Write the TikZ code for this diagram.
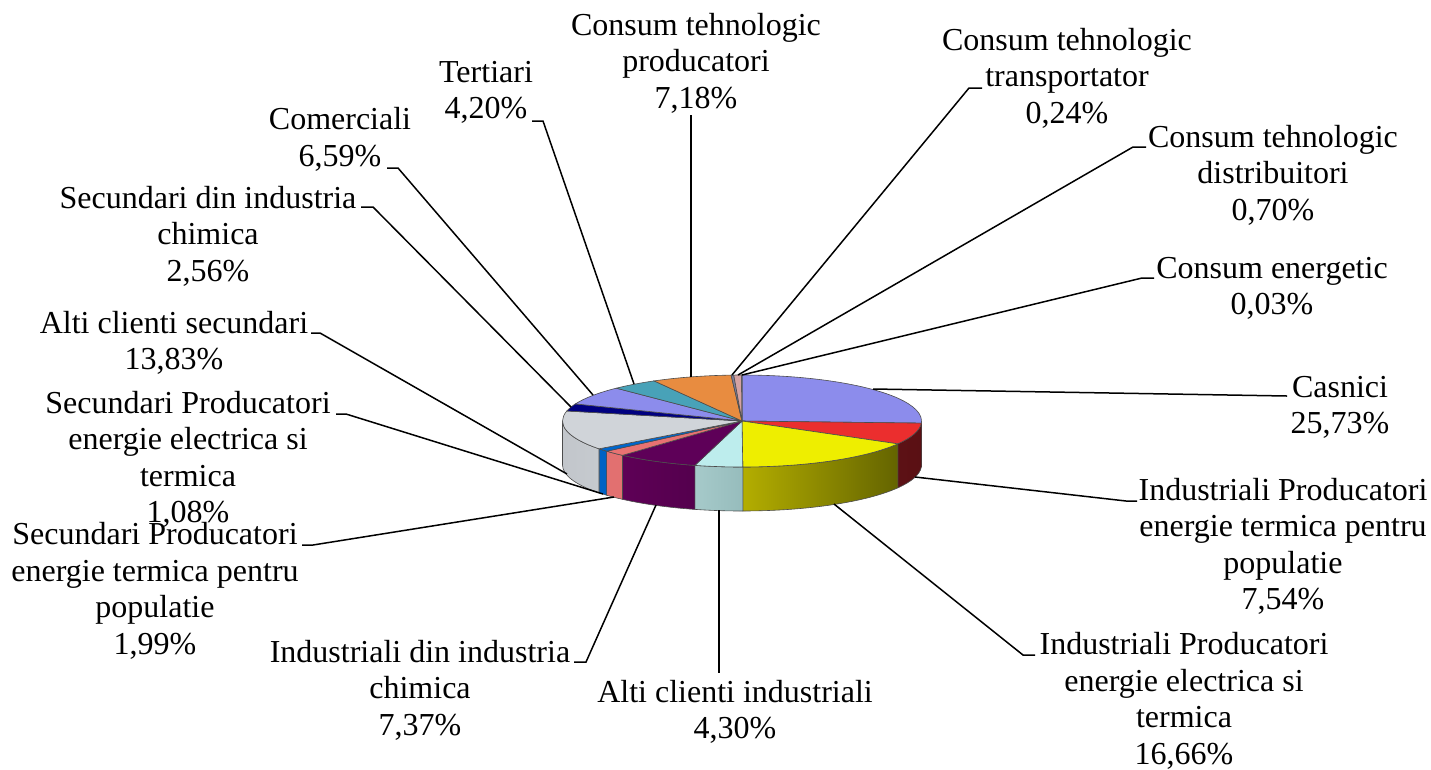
\documentclass[tikz,border=0pt]{standalone}
\usepackage{fontspec}
\setmainfont{Liberation Serif}
\definecolor{cCas}{HTML}{8C8CEC}
\definecolor{cIPT}{HTML}{EB2E2E}
\definecolor{cIPE}{HTML}{EEEE00}
\definecolor{cACI}{HTML}{BDEDED}
\definecolor{cIDIC}{HTML}{5E0058}
\definecolor{cSPT}{HTML}{E87272}
\definecolor{cSPE}{HTML}{0066CC}
\definecolor{cACS}{HTML}{D0D4D9}
\definecolor{cSDIC}{HTML}{000080}
\definecolor{cCom}{HTML}{8C8CEC}
\definecolor{cTer}{HTML}{48A2B8}
\definecolor{cCTP}{HTML}{E88C40}
\definecolor{cCTT}{HTML}{7C7C9C}
\definecolor{cCTD}{HTML}{D4A2A2}
\definecolor{cCE}{HTML}{9A9A9A}
\definecolor{wCasA}{HTML}{5A5AA0}
\definecolor{wIPTA}{HTML}{6E161A}
\definecolor{wIPTB}{HTML}{5A1014}
\definecolor{wIPEA}{HTML}{B4AE00}
\definecolor{wIPEB}{HTML}{646400}
\definecolor{wACIA}{HTML}{A6CACA}
\definecolor{wACIB}{HTML}{96BCBC}
\definecolor{wIDICA}{HTML}{5E0056}
\definecolor{wIDICB}{HTML}{4E0048}
\definecolor{wSPT}{HTML}{E27070}
\definecolor{wSPE}{HTML}{0062C4}
\definecolor{wACSA}{HTML}{C2C6CB}
\definecolor{wACSB}{HTML}{D6DADE}
\newcommand\mywall[4]{%
  \path[left color=#3, right color=#4, draw=black!70, line width=0.6pt]
    (C) ++(#1:179.5 and 46)
    arc[start angle=#1, end angle=#2, x radius=179.5, y radius=46]
    -- ++(0,44)
    arc[start angle=#2, end angle=#1, x radius=179.5, y radius=46] -- cycle;}
\newcommand\myslice[3]{%
  \filldraw[fill=#3, draw=black!70, line width=0.6pt]
    (C) -- ++(#1:179.5 and 46)
    arc[start angle=#1, end angle=#2, x radius=179.5, y radius=46] -- cycle;}
\begin{document}
\begin{tikzpicture}[x=1pt,y=-1pt,
  lbl/.style={font=\fontsize{32}{36.5}\selectfont, align=center, inner sep=0pt, anchor=base},
  leader/.style={draw=black, line width=1.5pt}]
\useasboundingbox (0,0) rectangle (1431,769);
\coordinate (C) at (742,421);
% walls (front half)
\mywall{0}{2.628}{wCasA}{wCasA}
\mywall{2.628}{29.772}{wIPTA}{wIPTB}
\mywall{29.772}{89.748}{wIPEA}{wIPEB}
\mywall{89.748}{105.228}{wACIA}{wACIB}
\mywall{105.228}{131.76}{wIDICA}{wIDICB}
\mywall{131.76}{138.924}{wSPT}{wSPT}
\mywall{138.924}{142.812}{wSPE}{wSPE}
\mywall{142.812}{180}{wACSA}{wACSB}
% top faces
\myslice{-90}{2.628}{cCas}
\myslice{2.628}{29.772}{cIPT}
\myslice{29.772}{89.748}{cIPE}
\myslice{89.748}{105.228}{cACI}
\myslice{105.228}{131.76}{cIDIC}
\myslice{131.76}{138.924}{cSPT}
\myslice{138.924}{142.812}{cSPE}
\myslice{142.812}{192.6}{cACS}
\myslice{192.6}{201.816}{cSDIC}
\myslice{201.816}{225.54}{cCom}
\myslice{225.54}{240.66}{cTer}
\myslice{240.66}{266.508}{cCTP}
\myslice{266.508}{267.372}{cCTT}
\myslice{267.372}{269.892}{cCTD}
\myslice{269.892}{270}{cCE}

% labels (positioned by the baseline of their last line)
\node[lbl] (lCas) at (1340,433.5) {Casnici\\25,73\%};
\node[lbl] (lIPT) at (1283,609.5) {Industriali Producatori\\energie termica pentru\\populatie\\7,54\%};
\node[lbl] (lIPE) at (1184,764) {Industriali Producatori\\energie electrica si\\termica\\16,66\%};
\node[lbl] (lACI) at (735,738.5) {Alti clienti industriali\\4,30\%};
\node[lbl] (lIDIC) at (420,735) {Industriali din industria\\chimica\\7,37\%};
\node[lbl] (lSPT) at (155,654) {Secundari Producatori\\energie termica pentru\\populatie\\1,99\%};
\node[lbl] (lSPE) at (188,522.5) {Secundari Producatori\\energie electrica si\\termica\\1,08\%};
\node[lbl] (lACS) at (174,369.5) {Alti clienti secundari\\13,83\%};
\node[lbl] (lSDIC) at (208,281) {Secundari din industria\\chimica\\2,56\%};
\node[lbl] (lCom) at (340,166) {Comerciali\\6,59\%};
\node[lbl] (lTer) at (486,118.5) {Tertiari\\4,20\%};
\node[lbl] (lCTP) at (696,108) {Consum tehnologic\\producatori\\7,18\%};
\node[lbl] (lCTT) at (1067,123) {Consum tehnologic\\transportator\\0,24\%};
\node[lbl] (lCTD) at (1273,220) {Consum tehnologic\\distribuitori\\0,70\%};
\node[lbl] (lCE) at (1272,314.5) {Consum energetic\\0,03\%};

% leader coordinates
\coordinate (pCas) at (873,389);  \coordinate (tCas) at (1287,396);
\coordinate (pIPT) at (915,477);  \coordinate (eIPT) at (1126,501); \coordinate (tIPT) at (1137,501);
\coordinate (pIPE) at (834,504);  \coordinate (eIPE) at (1023,655); \coordinate (tIPE) at (1035,655);
\coordinate (pACI) at (719,510);  \coordinate (tACI) at (719,673);
\coordinate (pIDIC) at (656,505); \coordinate (eIDIC) at (586,662); \coordinate (tIDIC) at (574,662);
\coordinate (pSPT) at (614,497);  \coordinate (eSPT) at (313,545); \coordinate (tSPT) at (302,545);
\coordinate (pSPE) at (603,494);  \coordinate (eSPE) at (346,414); \coordinate (tSPE) at (336,414);
\coordinate (pACS) at (567,474);  \coordinate (eACS) at (320,333); \coordinate (tACS) at (311,333);
\coordinate (pSDIC) at (571,407); \coordinate (eSDIC) at (373,207); \coordinate (tSDIC) at (361,207);
\coordinate (pCom) at (593,395);  \coordinate (eCom) at (398,168); \coordinate (tCom) at (387,168);
\coordinate (pTer) at (634,384);  \coordinate (eTer) at (543,121); \coordinate (tTer) at (532,121);
\coordinate (pCTP) at (691,377);  \coordinate (tCTP) at (691,115);
\coordinate (pCTT) at (732,375);  \coordinate (eCTT) at (969,88); \coordinate (tCTT) at (982,88);
\coordinate (pCTD) at (738,375);  \coordinate (eCTD) at (1133,147); \coordinate (tCTD) at (1146,147);
\coordinate (pCE) at (742,375);   \coordinate (eCE) at (1142,278); \coordinate (tCE) at (1154,278);

\draw[leader] (pCas) -- (tCas);
\draw[leader] (pIPT) -- (eIPT) -- (tIPT);
\draw[leader] (pIPE) -- (eIPE) -- (tIPE);
\draw[leader] (pACI) -- (tACI);
\draw[leader] (pIDIC) -- (eIDIC) -- (tIDIC);
\draw[leader] (pSPT) -- (eSPT) -- (tSPT);
\draw[leader] (pSPE) -- (eSPE) -- (tSPE);
\draw[leader] (pACS) -- (eACS) -- (tACS);
\draw[leader] (pSDIC) -- (eSDIC) -- (tSDIC);
\draw[leader] (pCom) -- (eCom) -- (tCom);
\draw[leader] (pTer) -- (eTer) -- (tTer);
\draw[leader] (pCTP) -- (tCTP);
\draw[leader] (pCTT) -- (eCTT) -- (tCTT);
\draw[leader] (pCTD) -- (eCTD) -- (tCTD);
\draw[leader] (pCE) -- (eCE) -- (tCE);
\end{tikzpicture}
\end{document}
